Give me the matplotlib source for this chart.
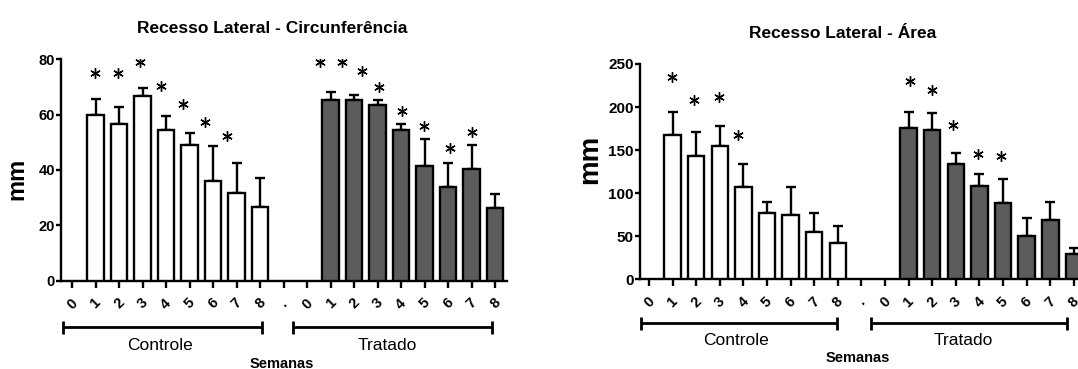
import matplotlib

matplotlib.use("Agg")

import matplotlib.pyplot as plt
import matplotlib.transforms as mtransforms
import numpy as np

plt.rcParams["font.family"] = ["Liberation Sans", "DejaVu Sans"]

# ----------------------------------------------------------------------
# data
# ----------------------------------------------------------------------
week_labels = ["0", "1", "2", "3", "4", "5", "6", "7", "8"]
tick_labels = week_labels + ["."] + week_labels

circ_ctrl_mean = [0, 59.7, 56.5, 66.9, 54.4, 49.2, 36.1, 31.7, 26.7]
circ_ctrl_err = [0, 6.0, 6.2, 2.8, 5.0, 4.0, 12.5, 11.0, 10.4]
circ_trat_mean = [0, 65.3, 65.4, 63.5, 54.3, 41.6, 33.8, 40.2, 26.1]
circ_trat_err = [0, 3.0, 1.6, 1.7, 2.2, 9.7, 8.6, 8.7, 5.3]
circ_star_x = [0.96, 1.94, 2.91, 3.80, 4.72, 5.67, 6.59,
               10.53, 11.48, 12.33, 13.04, 14.03, 14.98, 16.06, 17.01]
circ_star_y = [74.9, 74.9, 78.9, 70.5, 63.7, 57.3, 52.2,
               79.0, 79.0, 75.7, 70.0, 61.3, 56.0, 48.0, 53.8]

area_ctrl_mean = [0, 167.8, 142.7, 154.6, 107.2, 77.1, 75.2, 54.4, 42.4]
area_ctrl_err = [0, 27.0, 28.9, 23.2, 27.1, 12.7, 32.0, 22.0, 19.3]
area_trat_mean = [0, 175.9, 172.8, 134.3, 108.0, 88.5, 50.2, 68.8, 29.2]
area_trat_err = [0, 18.9, 20.0, 12.7, 14.0, 27.8, 20.5, 20.5, 7.0]
area_star_x = [0.96, 1.89, 2.96, 3.77, 11.06, 11.99, 12.89, 13.96, 14.91]
area_star_y = [235, 208.6, 211.3, 167, 229.9, 219.9, 178.6, 145, 142.7]

CTRL_POS = np.arange(9)
TRAT_POS = np.arange(10, 19)

TRAT_COLOR = "#5c5c5c"
LW = 1.7


def draw_bars(ax, pos, mean, err, color):
    mean = np.asarray(mean, dtype=float)
    err = np.asarray(err, dtype=float)
    keep = mean > 0
    ax.errorbar(
        pos[keep], mean[keep],
        yerr=[np.zeros(keep.sum()), err[keep]],
        fmt="none", ecolor="black", elinewidth=LW,
        capsize=3.4, capthick=LW, zorder=2,
    )
    ax.bar(pos[keep], mean[keep], width=0.7, color=color,
           edgecolor="black", linewidth=LW, zorder=3)


def bracket(ax, x0, x1, y):
    trans = mtransforms.blended_transform_factory(ax.transData, ax.transAxes)
    ax.plot([x0, x1], [y, y], color="black", lw=2.0, transform=trans,
            clip_on=False, solid_capstyle="butt")
    for x in (x0, x1):
        ax.plot([x, x], [y - 0.03, y + 0.03], color="black", lw=2.0,
                transform=trans, clip_on=False, solid_capstyle="butt")


def panel(ax, ctrl_mean, ctrl_err, trat_mean, trat_err, star_x, star_y,
          xlim, ylim, yticks, ytick_size, layout):
    draw_bars(ax, CTRL_POS, ctrl_mean, ctrl_err, "white")
    draw_bars(ax, TRAT_POS, trat_mean, trat_err, TRAT_COLOR)
    ax.plot(star_x, star_y, linestyle="none", marker=(6, 2, 0),
            markersize=7.5, markeredgewidth=1.0, color="black", zorder=4)

    ax.set_xlim(*xlim)
    ax.set_ylim(*ylim)
    ax.set_yticks(yticks)
    ax.set_xticks(np.arange(len(tick_labels)))
    ax.set_xticklabels(tick_labels, rotation=45, ha="center",
                       fontweight="bold", fontsize=10.5)
    for lab in ax.get_yticklabels():
        lab.set_fontweight("bold")
        lab.set_fontsize(ytick_size)

    for side in ("top", "right"):
        ax.spines[side].set_visible(False)
    for side in ("left", "bottom"):
        ax.spines[side].set_linewidth(LW)
    ax.tick_params(axis="x", direction="out", length=5, width=LW, pad=6)
    ax.tick_params(axis="y", direction="out", length=3.5, width=LW, pad=1)

    trans = mtransforms.blended_transform_factory(ax.transData, ax.transAxes)
    by, ty, sy = layout["bracket_y"], layout["group_y"], layout["semanas_y"]
    bracket(ax, *layout["ctrl_span"], by)
    bracket(ax, *layout["trat_span"], by)
    ax.text(layout["ctrl_x"], ty, "Controle", transform=trans,
            ha="center", va="center", fontsize=12.5)
    ax.text(layout["trat_x"], ty, "Tratado", transform=trans,
            ha="center", va="center", fontsize=12.5)
    ax.text(layout["semanas_x"], sy, "Semanas", transform=trans,
            ha="center", va="center", fontsize=10.5, fontweight="bold")


fig = plt.figure(figsize=(10.78, 3.69), dpi=100)

ax1 = fig.add_axes([0.0566, 0.2393, 0.4137, 0.600])
panel(
    ax1, circ_ctrl_mean, circ_ctrl_err, circ_trat_mean, circ_trat_err,
    circ_star_x, circ_star_y, (-0.47, 18.5), (0, 80), [0, 20, 40, 60, 80],
    10.5,
    dict(bracket_y=-0.21, group_y=-0.294, semanas_y=-0.374,
         ctrl_span=(-0.37, 8.1), trat_span=(9.4, 17.85),
         ctrl_x=3.73, trat_x=13.4, semanas_x=8.9),
)

ax2 = fig.add_axes([0.5937, 0.2431, 0.4134, 0.5835])
panel(
    ax2, area_ctrl_mean, area_ctrl_err, area_trat_mean, area_trat_err,
    area_star_x, area_star_y, (-0.38, 18.5), (0, 250),
    [0, 50, 100, 150, 200, 250], 11,
    dict(bracket_y=-0.205, group_y=-0.282, semanas_y=-0.367,
         ctrl_span=(-0.33, 7.97), trat_span=(9.4, 17.7),
         ctrl_x=3.7, trat_x=13.3, semanas_x=8.83),
)

fig.text(272 / 1078, 1 - 33 / 369, "Recesso Lateral - Circunferência",
         ha="center", va="baseline", fontsize=12.5, fontweight="bold")
fig.text(843 / 1078, 1 - 38 / 369, "Recesso Lateral - Área",
         ha="center", va="baseline", fontsize=12.5, fontweight="bold")

fig.text(17 / 1078, 1 - 179 / 369, "mm", rotation=90, ha="center",
         va="center", fontsize=17, fontweight="bold")
fig.text(590 / 1078, 1 - 159 / 369, "mm", rotation=90, ha="center",
         va="center", fontsize=20, fontweight="bold")

fig.savefig("out.png", dpi=100)
